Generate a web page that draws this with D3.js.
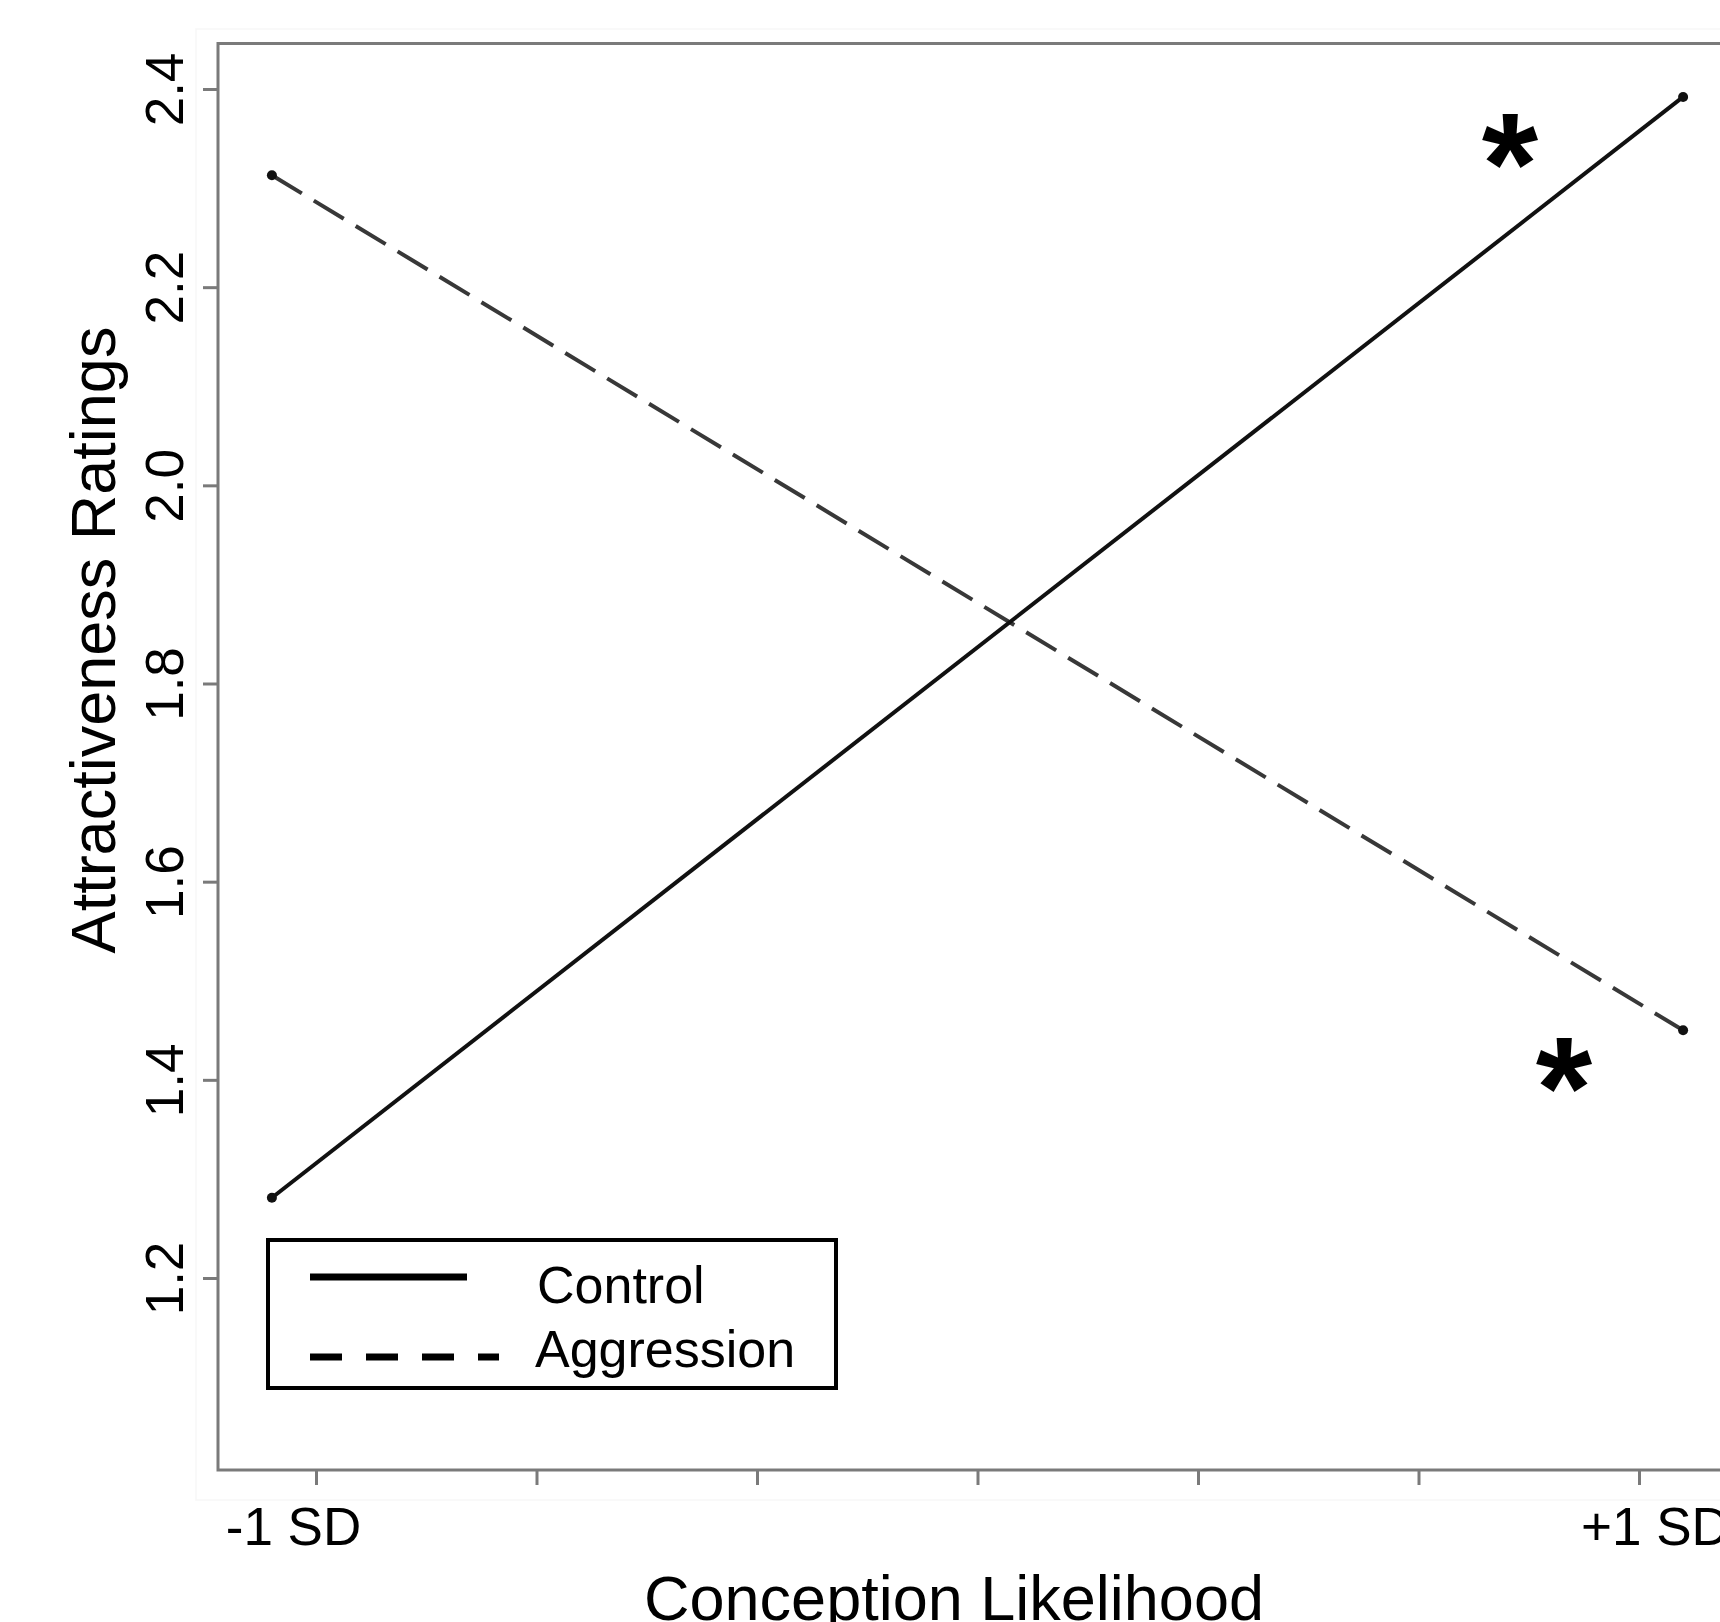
<!DOCTYPE html>
<html>
<head>
<meta charset="utf-8">
<script src="https://cdn.jsdelivr.net/npm/d3@7"></script>
<style>
  body { margin: 0; background: #fff; }
  text { font-family: "Liberation Sans", Arial, sans-serif; }
</style>
</head>
<body>
<svg id="chart"></svg>
<script>
// x positions are in tick units (0 = first tick, 6 = last tick)
let xTicks = [0, 1, 2, 3, 4, 5, 6];
let xTickLabels = { 0: "-1 SD", 6: "+1 SD" };
let yTicks = [1.2, 1.4, 1.6, 1.8, 2.0, 2.2, 2.4];
let pointX = [-0.2, 6.2];
let controlValues = [1.281, 2.392];
let aggressionValues = [2.313, 1.450];
let seriesNames = ["Control", "Aggression"];
// significance stars (x in tick units, y in rating units)
let starX = [5.415, 5.66];
let starY = [2.347, 1.414];

function getConfig() {
  let width = 1720;
  let height = 1622;
  let frame = { left: 218, top: 43.5, bottom: 1470 };
  let container = d3.select("#chart")
    .attr("width", width)
    .attr("height", height);
  return { width, height, frame, container };
}

function getScales(config) {
  let xScale = d3.scaleLinear()
    .domain([0, 6])
    .range([316, 1639]);
  let yScale = d3.scaleLinear()
    .domain([1.2, 2.4])
    .range([1278, 89]);
  return { xScale, yScale };
}

function drawAxes(scales, config) {
  let { xScale, yScale } = scales;
  let { container, frame, width } = config;

  // faint scan edge around the plot
  container.append("rect")
    .attr("x", 196).attr("y", 29)
    .attr("width", width).attr("height", 1500 - 29)
    .attr("fill", "none")
    .attr("stroke", "#f7f7f7")
    .attr("stroke-width", 1.5);

  // frame (right side is off the picture)
  container.append("rect")
    .attr("x", frame.left).attr("y", frame.top)
    .attr("width", width).attr("height", frame.bottom - frame.top)
    .attr("fill", "none")
    .attr("stroke", "#7a7a7a")
    .attr("stroke-width", 3);

  let xAxis = container.append("g")
    .attr("class", "bottomaxis")
    .attr("transform", `translate(0, ${frame.bottom})`)
    .call(d3.axisBottom(xScale)
      .tickValues(xTicks)
      .tickSize(15)
      .tickPadding(22)
      .tickFormat(d => xTickLabels[d] || ""));
  xAxis.select(".domain").remove();
  xAxis.selectAll(".tick line").attr("stroke", "#7a7a7a").attr("stroke-width", 3);
  xAxis.selectAll(".tick text")
    .attr("fill", "#000")
    .style("font-size", "53px")
    .attr("dx", d => d === 0 ? -23 : 16)
    .attr("dy", "0.71em");

  let yAxis = container.append("g")
    .attr("class", "leftaxis")
    .attr("transform", `translate(${frame.left}, 0)`)
    .call(d3.axisLeft(yScale)
      .tickValues(yTicks)
      .tickSize(15)
      .tickFormat(d3.format(".1f")));
  yAxis.select(".domain").remove();
  yAxis.selectAll(".tick line").attr("stroke", "#7a7a7a").attr("stroke-width", 3);
  yAxis.selectAll(".tick text")
    .attr("fill", "#000")
    .style("font-size", "53px")
    .attr("x", 0).attr("y", 0).attr("dy", 0)
    .attr("text-anchor", "middle")
    .attr("transform", "translate(-35, 0) rotate(-90)");

  container.append("text")
    .attr("x", 954).attr("y", 1620)
    .attr("text-anchor", "middle")
    .style("font-size", "63px")
    .text("Conception Likelihood");

  container.append("text")
    .attr("transform", "translate(115, 640) rotate(-90)")
    .attr("text-anchor", "middle")
    .style("font-size", "63px")
    .text("Attractiveness Ratings");
}

function drawLines(scales, config) {
  let { xScale, yScale } = scales;
  let { container } = config;

  let line = d3.line()
    .x(d => xScale(d[0]))
    .y(d => yScale(d[1]));

  let control = pointX.map((x, i) => [x, controlValues[i]]);
  let aggression = pointX.map((x, i) => [x, aggressionValues[i]]);

  container.append("path")
    .datum(aggression)
    .attr("d", line)
    .attr("fill", "none")
    .attr("stroke", "#383838")
    .attr("stroke-width", 4)
    .attr("stroke-dasharray", "35,14");

  container.append("path")
    .datum(control)
    .attr("d", line)
    .attr("fill", "none")
    .attr("stroke", "#111")
    .attr("stroke-width", 4);

  container.selectAll(".pt")
    .data(control.concat(aggression))
    .enter()
    .append("circle")
      .attr("cx", d => xScale(d[0]))
      .attr("cy", d => yScale(d[1]))
      .attr("r", 5)
      .attr("fill", "#111");

  container.selectAll(".star")
    .data(starX.map((x, i) => [x, starY[i]]))
    .enter()
    .append("text")
      .attr("x", d => xScale(d[0]))
      .attr("y", d => yScale(d[1]) + 72)
      .attr("text-anchor", "middle")
      .style("font-size", "145px")
      .style("font-weight", "bold")
      .text("*");
}

function drawLegend(config) {
  let { container } = config;
  let g = container.append("g");
  g.append("rect")
    .attr("x", 268).attr("y", 1240)
    .attr("width", 568).attr("height", 148)
    .attr("fill", "#fff")
    .attr("stroke", "#000")
    .attr("stroke-width", 4);

  let rows = g.selectAll(".row")
    .data(seriesNames)
    .enter()
    .append("g")
      .attr("transform", (d, i) => `translate(0, ${i === 0 ? 1277 : 1357})`);

  rows.append("line")
    .attr("x1", 310)
    .attr("x2", (d, i) => i === 0 ? 467 : 499)
    .attr("stroke", "#000")
    .attr("stroke-width", 7)
    .attr("stroke-dasharray", (d, i) => i === 0 ? null : "32,24");

  rows.append("text")
    .attr("x", (d, i) => i === 0 ? 537 : 535)
    .attr("y", (d, i) => i === 0 ? 26 : 10)
    .style("font-size", "52px")
    .text(d => d);
}

let config = getConfig();
let scales = getScales(config);
drawAxes(scales, config);
drawLines(scales, config);
drawLegend(config);
</script>
</body>
</html>
